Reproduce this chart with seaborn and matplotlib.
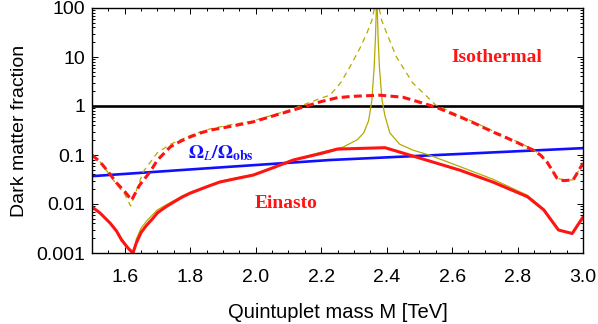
import numpy as np
import pandas as pd
import matplotlib
matplotlib.use("Agg")
import matplotlib.pyplot as plt
import matplotlib.ticker as mticker
import seaborn as sns

# ---- data ----
iso_M = [1.50, 1.525, 1.55, 1.575, 1.60, 1.621, 1.645, 1.677, 1.70, 1.74, 1.77, 1.80, 1.83,
         1.86, 1.92, 1.99, 2.064, 2.11, 2.156, 2.20, 2.25, 2.30, 2.38, 2.45, 2.50, 2.55,
         2.624, 2.67, 2.725, 2.76, 2.80, 2.848, 2.87, 2.89, 2.905, 2.92, 2.94, 2.97, 3.0]
iso_val = [0.100, 0.072, 0.045, 0.027, 0.018, 0.012, 0.024, 0.045, 0.079, 0.148, 0.19,
           0.234, 0.28, 0.32, 0.38, 0.47, 0.66, 0.81, 1.00, 1.23, 1.48, 1.58, 1.66, 1.51,
           1.20, 0.95, 0.60, 0.44, 0.295, 0.234, 0.178, 0.126, 0.10, 0.072, 0.05, 0.034,
           0.030, 0.031, 0.068]

iso_thin_M = [1.50, 1.525, 1.55, 1.575, 1.60, 1.618, 1.645, 1.656, 1.70, 1.74, 1.80, 1.86,
              1.92, 1.99, 2.064, 2.11, 2.156, 2.20, 2.227, 2.26, 2.288, 2.32, 2.34, 2.355,
              2.363, 2.370, 2.377, 2.385, 2.40, 2.43, 2.48, 2.55, 2.624, 2.67, 2.725, 2.76,
              2.80, 2.848, 2.87, 2.89, 2.905, 2.92, 2.94, 2.97, 3.0]
iso_thin_val = [0.100, 0.072, 0.043, 0.025, 0.0158, 0.0091, 0.028, 0.045, 0.112, 0.166,
                0.25, 0.34, 0.41, 0.49, 0.69, 0.86, 1.12, 1.45, 1.66, 3.0, 6.3, 15.8, 31,
                56, 100, 200, 100, 56, 31, 10, 2.95, 1.05, 0.63, 0.46, 0.31, 0.245, 0.186,
                0.129, 0.10, 0.072, 0.05, 0.034, 0.031, 0.031, 0.068]

ein_M = [1.50, 1.524, 1.555, 1.575, 1.59, 1.61, 1.625, 1.635, 1.65, 1.667, 1.685, 1.70,
         1.725, 1.75, 1.775, 1.80, 1.85, 1.89, 1.94, 1.993, 2.05, 2.115, 2.206, 2.25, 2.395,
         2.50, 2.624, 2.725, 2.83, 2.88, 2.925, 2.967, 3.0]
ein_val = [0.0087, 0.0066, 0.0041, 0.0028, 0.00186, 0.00126, 0.0010, 0.00158, 0.00263,
           0.0037, 0.0050, 0.0066, 0.0087, 0.011, 0.0138, 0.0166, 0.0224, 0.028, 0.033,
           0.039, 0.054, 0.079, 0.11, 0.132, 0.141, 0.087, 0.049, 0.028, 0.0141, 0.0076,
           0.00295, 0.0025, 0.0054]

ein_thin_M = [1.50, 1.524, 1.555, 1.575, 1.59, 1.61, 1.628, 1.635, 1.65, 1.667, 1.685, 1.70,
              1.725, 1.75, 1.775, 1.80, 1.85, 1.89, 1.94, 1.993, 2.05, 2.115, 2.206, 2.267,
              2.31, 2.33, 2.345, 2.355, 2.362, 2.366, 2.370, 2.374, 2.378, 2.386, 2.395,
              2.41, 2.44, 2.48, 2.53, 2.624, 2.725, 2.83, 2.88, 2.925, 2.967, 3.0]
ein_thin_val = [0.0087, 0.0066, 0.0041, 0.0029, 0.0020, 0.0013, 0.0010, 0.0019, 0.0032,
                0.0045, 0.0060, 0.0076, 0.0095, 0.0117, 0.0145, 0.0174, 0.023, 0.029, 0.034,
                0.040, 0.055, 0.081, 0.117, 0.145, 0.204, 0.282, 0.50, 1.32, 6.3, 25, 200,
                25, 6.3, 1.32, 0.63, 0.282, 0.166, 0.126, 0.10, 0.058, 0.032, 0.0151,
                0.0079, 0.00295, 0.0025, 0.0054]

omega_M = [1.50, 1.86, 2.227, 2.624, 3.0]
omega_val = [0.037, 0.054, 0.079, 0.105, 0.138]

unity_M = [1.50, 3.0]
unity_val = [1.0, 1.0]

x_ticks = [1.6, 1.8, 2.0, 2.2, 2.4, 2.6, 2.8, 3.0]
y_ticks = [0.001, 0.01, 0.1, 1, 10, 100]
y_labels = ["0.001", "0.01", "0.1", "1", "10", "100"]

# ---- style ----
sns.set_style("ticks")
plt.rcParams["font.family"] = ["Liberation Sans", "DejaVu Sans"]
plt.rcParams["mathtext.fontset"] = "stix"
plt.rcParams["text.color"] = "black"
plt.rcParams["axes.labelcolor"] = "black"
plt.rcParams["xtick.color"] = "black"
plt.rcParams["ytick.color"] = "black"

OLIVE = "#b3ab00"
RED = "#ff1414"
BLUE = "#1010ff"

fig = plt.figure(figsize=(5.98, 3.24), dpi=100)
ax = fig.add_axes([92 / 598, 1 - 253 / 324, (583 - 92) / 598, (253 - 8) / 324])

def draw(M, v, **kw):
    df = pd.DataFrame({"M": M, "f": v})
    sns.lineplot(data=df, x="M", y="f", ax=ax, sort=False, estimator=None, **kw)

draw(unity_M, unity_val, color="black", lw=1.9)
draw(omega_M, omega_val, color=BLUE, lw=1.9)
draw(iso_thin_M, iso_thin_val, color=OLIVE, lw=0.9, dashes=(4.5, 3.5))
draw(ein_thin_M, ein_thin_val, color=OLIVE, lw=0.9)
draw(iso_M, iso_val, color=RED, lw=2.2, dashes=(2.6, 1.4))
draw(ein_M, ein_val, color=RED, lw=2.2)

ax.set_yscale("log")
ax.set_xlim(1.5, 3.0)
ax.set_ylim(0.001, 100)

ax.set_xticks(x_ticks)
ax.set_xticklabels([f"{t:.1f}" for t in x_ticks])
ax.xaxis.set_minor_locator(mticker.MultipleLocator(0.05))
ax.set_yticks(y_ticks)
ax.set_yticklabels(y_labels)
ax.yaxis.set_minor_locator(mticker.LogLocator(base=10, subs=np.arange(2, 10)))
ax.yaxis.set_minor_formatter(mticker.NullFormatter())

ax.tick_params(which="both", direction="in", top=True, right=True, colors="black",
               labelcolor="black", labelsize=14, width=0.7)
ax.tick_params(axis="x", which="major", length=4, pad=11.5)
ax.tick_params(axis="y", which="major", length=4, pad=5)
ax.tick_params(which="minor", length=2)
for s in ax.spines.values():
    s.set_color("black")
    s.set_linewidth(1.0)

ax.set_xlabel("Quintuplet mass M [TeV]", fontsize=14.5, labelpad=12, color="black")
ax.set_ylabel("Dark matter fraction", fontsize=14, labelpad=6, color="black")

ax.text(2.737, 10, "Isothermal", color=RED, fontsize=14, fontweight="bold",
        family="Liberation Serif", ha="center", va="center")
ax.text(2.093, 0.0100, "Einasto", color=RED, fontsize=14, fontweight="bold",
        family="Liberation Serif", ha="center", va="center")
ax.text(1.894, 0.11, r"$\mathbf{\Omega}_{\mathbf{\mathit{L}}}\mathbf{/\Omega}_{\mathbf{obs}}$",
        color=BLUE, fontsize=14, ha="center", va="center")

fig.savefig("out.png", dpi=100)
